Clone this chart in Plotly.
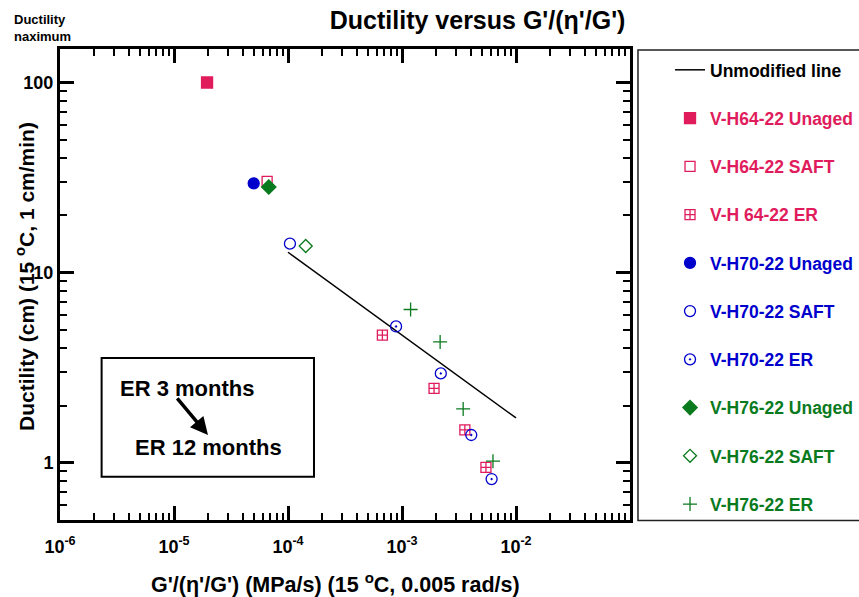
import plotly.graph_objects as go
import numpy as np

# ---------------- data ----------------
line_x = [1e-4, 1e-2]
line_y = [12.8, 1.72]

h64_unaged_x = [1.95e-5]
h64_unaged_y = [100]
h64_saft_x = [6.56e-5]
h64_saft_y = [30.2]
h64_er_x = [6.73e-4, 1.91e-3, 3.56e-3, 5.45e-3]
h64_er_y = [4.69, 2.46, 1.49, 0.946]

h70_unaged_x = [5.0e-5]
h70_unaged_y = [29.5]
h70_saft_x = [1.04e-4]
h70_saft_y = [14.2]
h70_er_x = [8.87e-4, 2.19e-3, 4.05e-3, 6.11e-3]
h70_er_y = [5.21, 2.95, 1.40, 0.821]

h76_unaged_x = [6.78e-5]
h76_unaged_y = [28.2]
h76_saft_x = [1.43e-4]
h76_saft_y = [13.8]
h76_er_x = [1.19e-3, 2.16e-3, 3.44e-3, 6.28e-3]
h76_er_y = [6.4, 4.32, 1.92, 1.02]

x_major = [1e-6, 1e-5, 1e-4, 1e-3, 1e-2]
x_major_text = ["10<sup>-6</sup>", "10<sup>-5</sup>", "10<sup>-4</sup>", "10<sup>-3</sup>", "10<sup>-2</sup>"]
y_major = [1, 10, 100]
y_major_text = ["1", "10", "100"]

CRIMSON = "#E01C5C"
BLUE = "#0000CC"
GREEN = "#0A7A1E"
FONT = "Liberation Sans, Arial, sans-serif"

def lab(text, color):
    return f"<span style='color:{color}'><b>{text}</b></span>"

fig = go.Figure()

fig.add_trace(go.Scatter(x=line_x, y=line_y, mode="lines",
                         line=dict(color="black", width=1.5),
                         name=lab("Unmodified line", "black"), legendgroup="g0"))

series = [
    (h64_unaged_x, h64_unaged_y, "V-H64-22 Unaged", CRIMSON, "square", 11),
    (h64_saft_x, h64_saft_y, "V-H64-22 SAFT", CRIMSON, "square-open", 10),
    (h64_er_x, h64_er_y, "V-H 64-22 ER", CRIMSON, "square-cross-open", 10),
    (h70_unaged_x, h70_unaged_y, "V-H70-22 Unaged", BLUE, "circle", 11),
    (h70_saft_x, h70_saft_y, "V-H70-22 SAFT", BLUE, "circle-open", 11),
    (h70_er_x, h70_er_y, "V-H70-22 ER", BLUE, "circle-open-dot", 11),
    (h76_unaged_x, h76_unaged_y, "V-H76-22 Unaged", GREEN, "diamond", 11),
    (h76_saft_x, h76_saft_y, "V-H76-22 SAFT", GREEN, "diamond-open", 10),
    (h76_er_x, h76_er_y, "V-H76-22 ER", GREEN, "cross-thin-open", 10),
]
for i, (xs, ys, nm, col, sym, sz) in enumerate(series):
    fig.add_trace(go.Scatter(x=xs, y=ys, mode="markers", name=lab(nm, col),
                             legendgroup=f"g{i+1}",
                             marker=dict(symbol=sym, size=sz, color=col,
                                         line=dict(color=col, width=1.3))))

# minor tick positions
x_minor = [m * 10.0 ** e for e in range(-6, -1) for m in range(2, 10)]
y_minor = [m * 10.0 ** e for e in range(-1, 2) for m in range(2, 10)]
y_minor = [v for v in y_minor if 0.5 <= v <= 150]

axis_common = dict(type="log", showline=True, linecolor="black", linewidth=3,
                   mirror="allticks", ticks="inside", ticklen=14, tickwidth=2.5,
                   tickcolor="black", showgrid=False, zeroline=False,
                   tickfont=dict(family=FONT, size=18, color="black", weight="bold"))

fig.update_xaxes(**axis_common, range=[-6, -1], tickmode="array", tickvals=x_major,
                 ticktext=x_major_text, ticklabelstandoff=8,
                 minor=dict(tickmode="array", tickvals=x_minor, ticks="inside",
                            ticklen=7, tickwidth=2, tickcolor="black", showgrid=False))
fig.update_yaxes(**axis_common, range=[np.log10(0.5), np.log10(150)], tickmode="array",
                 tickvals=y_major, ticktext=y_major_text,
                 minor=dict(tickmode="array", tickvals=y_minor, ticks="inside",
                            ticklen=7, tickwidth=2, tickcolor="black", showgrid=False))

# legend frame
fig.add_shape(type="rect", xref="paper", yref="paper", x0=1.014, x1=1.42, y0=-0.001, y1=0.998,
              line=dict(color="#222222", width=1.5), fillcolor="rgba(0,0,0,0)")

# text box
fig.add_shape(type="rect", xref="x domain", yref="y domain", x0=0.073, x1=0.4456,
              y0=0.092, y1=0.344, line=dict(color="black", width=2))
fig.add_annotation(xref="x domain", yref="y domain", x=0.1018, y=0.280, text="<b>ER 3 months</b>",
                   showarrow=False, xanchor="left", yanchor="middle",
                   font=dict(family=FONT, size=22, color="black"))
fig.add_annotation(xref="x domain", yref="y domain", x=0.128, y=0.153, text="<b>ER 12 months</b>",
                   showarrow=False, xanchor="left", yanchor="middle",
                   font=dict(family=FONT, size=22, color="black"))
fig.add_annotation(xref="x domain", yref="y domain", x=0.2596, y=0.1805, text="",
                   showarrow=True, arrowhead=2, arrowsize=1, arrowwidth=3.5,
                   arrowcolor="black", ax=-32, ay=-38)

# axis titles as annotations
fig.add_annotation(xref="paper", yref="paper", x=-0.0614, y=0.516,
                   text="<b>Ductility (cm) (15 <sup>o</sup>C, 1 cm/min)</b>", textangle=-90,
                   showarrow=False, xanchor="center", yanchor="middle",
                   font=dict(family=FONT, size=21, color="black"))
fig.add_annotation(xref="paper", yref="paper", x=0.484, y=-0.134,
                   text="<b>G'/(η'/G') (MPa/s) (15 <sup>o</sup>C, 0.005 rad/s)</b>",
                   showarrow=False, xanchor="center", yanchor="middle",
                   font=dict(family=FONT, size=21.5, color="black"))
fig.add_annotation(xref="paper", yref="paper", x=-0.0842, y=1.083,
                   text="<b>Ductility<br>naximum</b>", showarrow=False, align="left",
                   xanchor="left", yanchor="top",
                   font=dict(family=FONT, size=13, color="black"))

fig.update_layout(
    width=859, height=597,
    margin=dict(l=60, r=229, t=49, b=77),
    paper_bgcolor="white", plot_bgcolor="white",
    title=dict(text="<b>Ductility versus G'/(η'/G')</b>", x=0.556, xanchor="center",
               y=0.966, yanchor="middle", yref="container",
               font=dict(family=FONT, size=25, color="black")),
    showlegend=True,
    legend=dict(x=0.780, y=0.913, xanchor="left", yanchor="top",
                xref="container", yref="container",
                traceorder="grouped", tracegroupgap=22.5, bgcolor="rgba(0,0,0,0)",
                borderwidth=0, font=dict(family=FONT, size=17.5, color="black"),
                itemsizing="trace", maxheight=580),
)

fig.write_html("out.html")
